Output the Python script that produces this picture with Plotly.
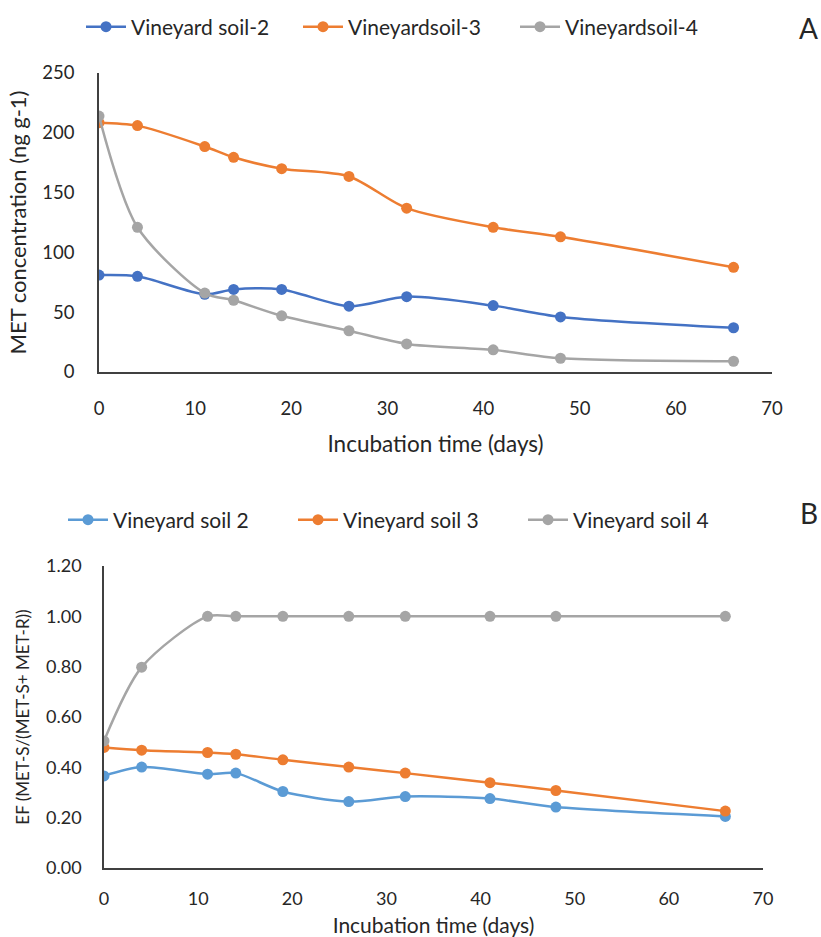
import plotly.graph_objects as go

days = [0, 4, 11, 14, 19, 26, 32, 41, 48, 66]

# Panel A: MET concentration (ng g-1)
met_soil2 = [81, 80, 65, 69, 69, 55, 63, 55.5, 46, 37]
met_soil3 = [208.5, 206, 188.5, 179.5, 170, 163.5, 137, 121, 113, 87.5]
met_soil4 = [214, 121, 66, 60, 47, 34.5, 23.5, 18.5, 11.5, 9]

# Panel B: EF
ef_soil2 = [0.366, 0.401, 0.373, 0.377, 0.304, 0.264, 0.284, 0.276, 0.242, 0.205]
ef_soil3 = [0.479, 0.468, 0.459, 0.452, 0.430, 0.401, 0.377, 0.339, 0.308, 0.226]
ef_soil4 = [0.505, 0.798, 1.0, 1.0, 1.0, 1.0, 1.0, 1.0, 1.0, 1.0]

names_a = ["Vineyard soil-2", "Vineyardsoil-3", "Vineyardsoil-4"]
names_b = ["Vineyard soil 2", "Vineyard soil 3", "Vineyard soil 4"]
colors_a = ["#4472C4", "#ED7D31", "#A5A5A5"]
colors_b = ["#5B9BD5", "#ED7D31", "#A5A5A5"]

FONT = "Lato"
TXT = "#262626"
W, H = 821, 937

fig = go.Figure()

for name, vals, col in zip(names_a, [met_soil2, met_soil3, met_soil4], colors_a):
    fig.add_trace(go.Scatter(
        x=days, y=vals, name=name, mode="lines+markers",
        line=dict(color=col, width=2.5, shape="spline", smoothing=0.8),
        marker=dict(color=col, size=11),
        xaxis="x", yaxis="y", legend="legend",
    ))

for name, vals, col in zip(names_b, [ef_soil2, ef_soil3, ef_soil4], colors_b):
    fig.add_trace(go.Scatter(
        x=days, y=vals, name=name, mode="lines+markers",
        line=dict(color=col, width=2.5, shape="spline", smoothing=0.8),
        marker=dict(color=col, size=11),
        xaxis="x2", yaxis="y2", legend="legend2",
    ))

axis_common = dict(
    showgrid=False, zeroline=False, showline=True, linecolor="#404040",
    linewidth=1.5, ticks="", color=TXT, automargin=False,
)

fig.update_layout(
    width=W, height=H,
    margin=dict(l=0, r=0, t=0, b=0, autoexpand=False),
    paper_bgcolor="white", plot_bgcolor="white",
    font=dict(family=FONT, color=TXT, size=18),
    showlegend=True,
    xaxis=dict(
        **axis_common, domain=[99 / W, 772 / W], range=[0, 70], dtick=10,
        anchor="y", tickfont=dict(size=18.5), ticklabelstandoff=19,
        title=dict(text="Incubation time (days)", font=dict(size=22.5), standoff=18),
    ),
    yaxis=dict(
        **axis_common, domain=[1 - 372 / H, 1 - 73 / H], range=[0, 250], dtick=50,
        anchor="x", tickfont=dict(size=18.5), ticklabelstandoff=19,
        title=dict(text="MET concentration (ng g-1)", font=dict(size=22), standoff=10),
    ),
    xaxis2=dict(
        **axis_common, domain=[104 / W, 763 / W], range=[0, 70], dtick=10,
        anchor="y2", tickfont=dict(size=18), ticklabelstandoff=14,
        title=dict(text="Incubation time (days)", font=dict(size=21), standoff=13),
    ),
    yaxis2=dict(
        **axis_common, domain=[1 - 868 / H, 1 - 566 / H], range=[0, 1.2], dtick=0.2,
        tickformat=".2f", anchor="x2", tickfont=dict(size=18), ticklabelstandoff=17,
        title=dict(text="EF (MET-S/(MET-S+ MET-R))", font=dict(size=17), standoff=12),
    ),
    legend=dict(
        orientation="h", x=81 / W, y=1 - 27 / H, xanchor="left", yanchor="middle",
        font=dict(size=21, color=TXT), itemwidth=40, entrywidth=162,
        bgcolor="rgba(0,0,0,0)",
    ),
    legend2=dict(
        orientation="h", x=63 / W, y=1 - 520 / H, xanchor="left", yanchor="middle",
        font=dict(size=21, color=TXT), itemwidth=40, entrywidth=175,
        bgcolor="rgba(0,0,0,0)",
    ),
    annotations=[
        dict(text="A", x=808 / W, y=1 - 28 / H, xref="paper", yref="paper",
             showarrow=False, font=dict(size=28, color=TXT), xanchor="center", yanchor="middle"),
        dict(text="B", x=809 / W, y=1 - 513 / H, xref="paper", yref="paper",
             showarrow=False, font=dict(size=28, color=TXT), xanchor="center", yanchor="middle"),
    ],
)

fig.write_html(
    "out.html",
    config={"displayModeBar": False},
    post_script="document.body.style.margin='0';document.body.style.overflow='hidden';",
)
